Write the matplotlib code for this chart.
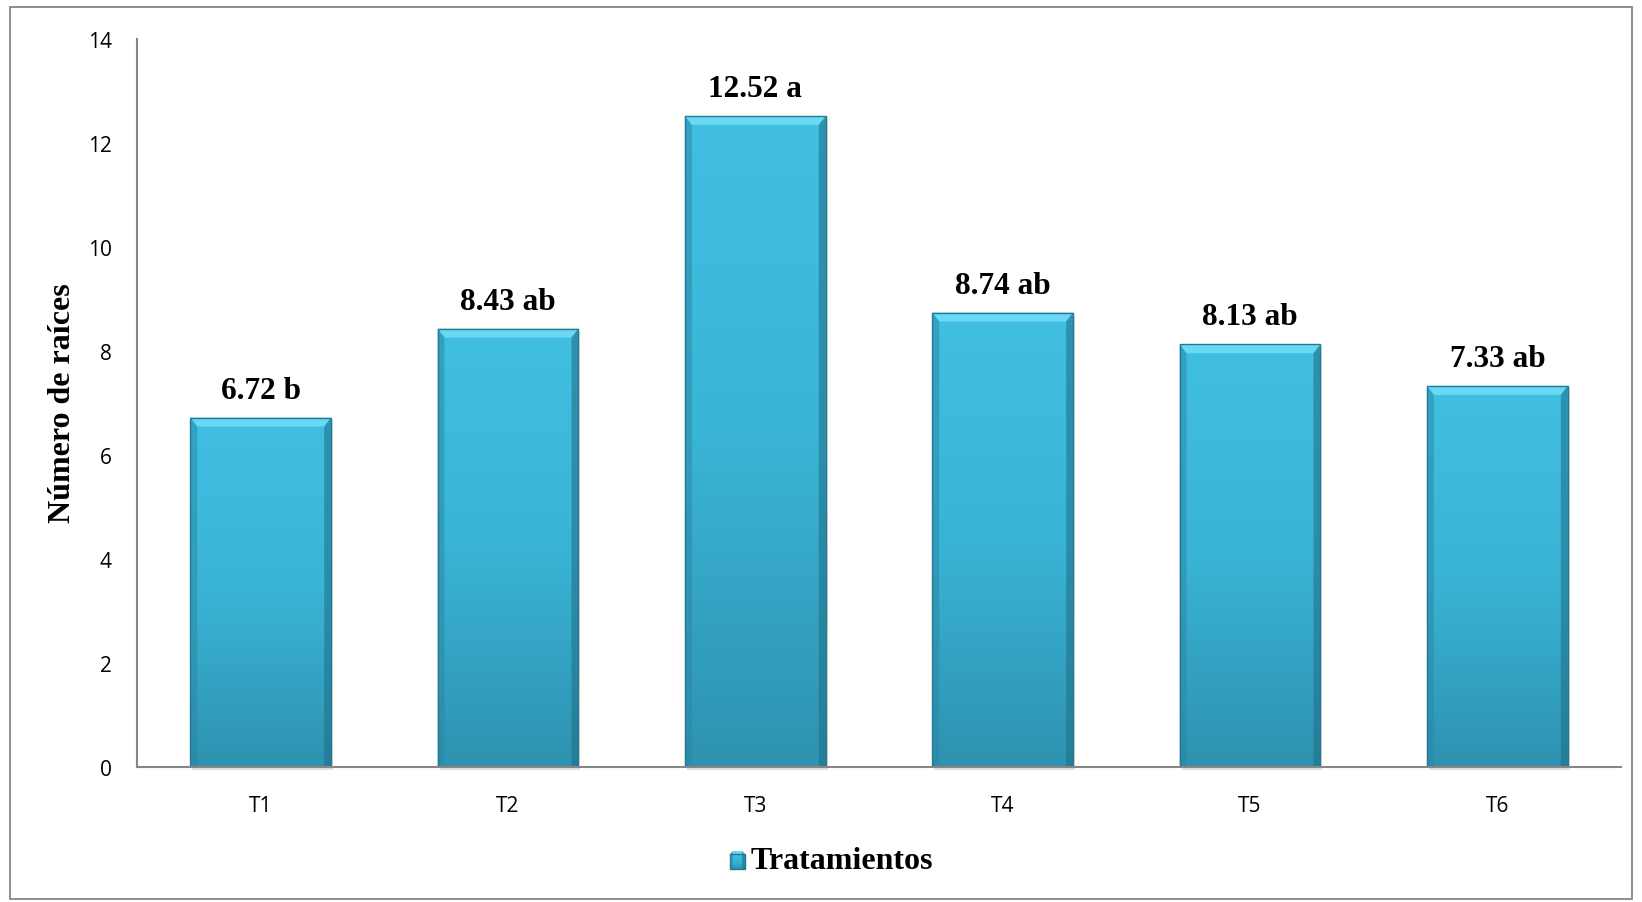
import numpy as np
import matplotlib
matplotlib.use("Agg")
import matplotlib.pyplot as plt
from matplotlib.patches import Rectangle, Polygon
from matplotlib.colors import LinearSegmentedColormap

# Data
treatments = ["T1", "T2", "T3", "T4", "T5", "T6"]
roots = [6.72, 8.43, 12.52, 8.74, 8.13, 7.33]
letters = ["b", "ab", "a", "ab", "ab", "ab"]
y_ticks = [0, 2, 4, 6, 8, 10, 12, 14]

W, H, DPI = 1642, 903, 100
fig = plt.figure(figsize=(W / DPI, H / DPI), dpi=DPI)
ax = fig.add_axes([137 / W, 1 - 768 / H, (1621 - 137) / W, (768 - 40) / H])

bar_w = 0.57
x = np.arange(len(treatments))
ax.set_xlim(-0.5, len(treatments) - 0.5)
ax.set_ylim(0, 14)

# pixel -> data conversion factors for the bevel
ax_w_px = (1621 - 137)
ax_h_px = (768 - 40)
px_x = len(treatments) / ax_w_px
px_y = 14 / ax_h_px

grad_cmap = LinearSegmentedColormap.from_list("bar", ["#2e92b0", "#3ab4d6", "#40bfe2"])
grad = np.linspace(0, 1, 256).reshape(-1, 1)


def bevel_box(axis, l, r, b, t, bx, by, transform, z):
    """Gradient box with a light top bevel and darker side bevels."""
    im = axis.imshow(grad, extent=(l, r, b, t), origin="lower", cmap=grad_cmap,
                     aspect="auto", zorder=z, interpolation="bicubic", transform=transform)
    im.set_clip_path(Rectangle((l, b), r - l, t - b, transform=transform))
    axis.add_patch(Polygon([(l, t), (r, t), (r - bx, t - by), (l + bx, t - by)],
                           closed=True, facecolor="#6ad8f2", edgecolor="none",
                           zorder=z + 0.1, transform=transform))
    axis.add_patch(Polygon([(l, b), (l, t), (l + bx, t - by), (l + bx, b)],
                           closed=True, facecolor="#2a86a2", alpha=0.5, edgecolor="none",
                           zorder=z + 0.1, transform=transform))
    axis.add_patch(Polygon([(r, b), (r, t), (r - bx, t - by), (r - bx, b)],
                           closed=True, facecolor="#1e6e86", alpha=0.55, edgecolor="none",
                           zorder=z + 0.1, transform=transform))
    axis.add_patch(Rectangle((l, b), r - l, t - b, facecolor="none", edgecolor="#247a93",
                             linewidth=1.0, zorder=z + 0.2, transform=transform))


bars = ax.bar(x, roots, width=bar_w, color="none", edgecolor="none", zorder=2)
for xi, val, let in zip(x, roots, letters):
    l, r = xi - bar_w / 2, xi + bar_w / 2
    # soft shadow
    ax.add_patch(Rectangle((l + 2 * px_x, -3 * px_y), bar_w, val, facecolor="#000000",
                           alpha=0.12, edgecolor="none", zorder=1.5, clip_on=False))
    bevel_box(ax, l, r, 0, val, 7 * px_x, 9 * px_y, ax.transData, 2.2)
    ax.text(xi, val + 0.25, f"{val:.2f} {let}", ha="center", va="bottom",
            fontsize=22.5, fontweight="bold", family="Liberation Serif", zorder=3)

for side in ["top", "right"]:
    ax.spines[side].set_visible(False)
for side in ["left", "bottom"]:
    ax.spines[side].set_color("#868686")
    ax.spines[side].set_linewidth(1.5)
ax.set_yticks(y_ticks)
ax.set_xticks(x)
ax.set_xticklabels(treatments)
ax.tick_params(axis="both", length=0, labelsize=15, labelcolor="#000000")
ax.tick_params(axis="y", pad=18)
ax.tick_params(axis="x", pad=20)
for lab in ax.get_xticklabels() + ax.get_yticklabels():
    lab.set_family("Open Sans")

fig.text(63 / W, 1 - 403 / H, "Número de raíces", rotation=90, ha="center", va="center",
         fontsize=23, fontweight="bold", family="Liberation Serif")

# legend marker + label
lax = fig.add_axes([0, 0, 1, 1], zorder=5)
lax.set_xlim(0, W)
lax.set_ylim(H, 0)
lax.axis("off")
lax.patch.set_alpha(0)
bevel_box(lax, 730, 745, 870, 855, 3, 3, lax.transData, 6)
lax.set_xlim(0, W)
lax.set_ylim(H, 0)
fig.text(751 / W, 1 - 862 / H, "Tratamientos", ha="left", va="center",
         fontsize=23, fontweight="bold", family="Liberation Serif")

# outer frame
fig.patches.append(Rectangle((10 / W, 1 - 900 / H), (1632 - 10) / W, (900 - 8) / H,
                             transform=fig.transFigure, facecolor="none",
                             edgecolor="#868686", linewidth=1.3))

fig.savefig("out.png", dpi=DPI)
